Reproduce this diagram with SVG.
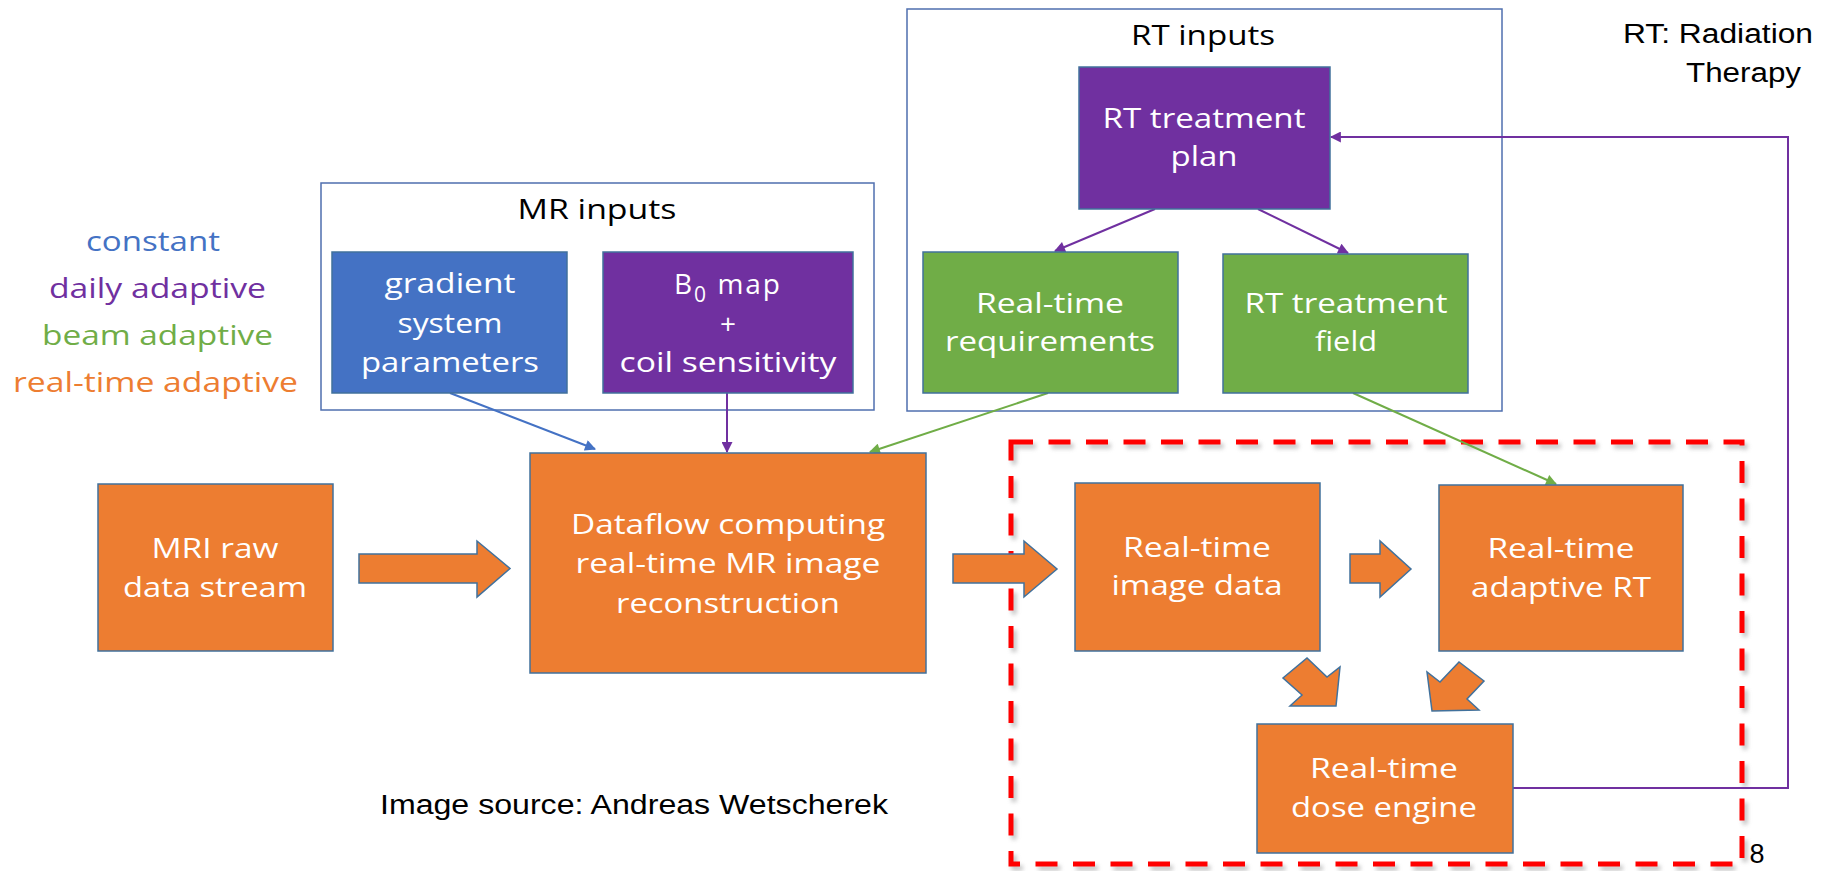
<svg xmlns="http://www.w3.org/2000/svg" width="1822" height="871" viewBox="0 0 1822 871">
<style>
.t{font-family:"Open Sans","Liberation Sans",sans-serif;font-size:28px;fill:#ffffff;text-anchor:middle}
.k{fill:#000000}
.a{font-family:"Liberation Sans",Arial,sans-serif;font-size:27px;fill:#000000}
.box{stroke:#41719C;stroke-width:1.5}
.or{fill:#ED7D31}
.bl{fill:#4472C4}
.pu{fill:#7030A0}
.gr{fill:#70AD47}
.cont{fill:none;stroke:#4F6FAF;stroke-width:1.5}
.ln{fill:none;stroke-width:2}
</style>
<defs>
<marker id="mb" viewBox="0 0 10 10" refX="9" refY="5" markerWidth="12" markerHeight="11" markerUnits="userSpaceOnUse" orient="auto"><path d="M0,0 L10,5 L0,10 z" fill="#4472C4"/></marker>
<marker id="mp" viewBox="0 0 10 10" refX="9" refY="5" markerWidth="12" markerHeight="11" markerUnits="userSpaceOnUse" orient="auto"><path d="M0,0 L10,5 L0,10 z" fill="#7030A0"/></marker>
<marker id="mg" viewBox="0 0 10 10" refX="9" refY="5" markerWidth="12" markerHeight="11" markerUnits="userSpaceOnUse" orient="auto"><path d="M0,0 L10,5 L0,10 z" fill="#70AD47"/></marker>
<filter id="sh" x="-5%" y="-5%" width="110%" height="110%"><feGaussianBlur stdDeviation="2"/></filter>
</defs>
<rect width="1822" height="871" fill="#ffffff"/>

<!-- legend -->
<g id="legend" font-family="Open Sans, Liberation Sans, sans-serif" font-size="28" text-anchor="middle">
<text x="153" y="251" fill="#4472C4" textLength="134" lengthAdjust="spacingAndGlyphs">constant</text>
<text x="157.5" y="298" fill="#7030A0" textLength="217" lengthAdjust="spacingAndGlyphs">daily adaptive</text>
<text x="157.5" y="345" fill="#70AD47" textLength="231" lengthAdjust="spacingAndGlyphs">beam adaptive</text>
<text x="155.5" y="392" fill="#ED7D31" textLength="285" lengthAdjust="spacingAndGlyphs">real-time adaptive</text>
</g>

<!-- containers -->
<g id="mr-inputs">
<rect class="cont" x="321" y="183" width="553" height="227"/>
<text class="t k" x="597" y="219" textLength="159" lengthAdjust="spacingAndGlyphs">MR inputs</text>
</g>
<g id="rt-inputs">
<rect class="cont" x="907" y="9" width="595" height="402"/>
<text class="t k" x="1203" y="45" textLength="144" lengthAdjust="spacingAndGlyphs">RT inputs</text>
</g>

<!-- red dashed region -->
<g id="realtime-region">
<rect x="1014" y="446" width="731" height="422" fill="none" stroke="#9a9a9a" stroke-width="5" stroke-dasharray="22 15.5" opacity="0.6" filter="url(#sh)"/>
<rect x="1011" y="442" width="731" height="422" fill="none" stroke="#FF0000" stroke-width="5" stroke-dasharray="22 15.5"/>
</g>

<!-- connectors -->
<g id="connectors">
<line class="ln" x1="450" y1="393" x2="595" y2="449" stroke="#4472C4" marker-end="url(#mb)"/>
<line class="ln" x1="727" y1="393" x2="727" y2="452" stroke="#7030A0" marker-end="url(#mp)"/>
<line class="ln" x1="1048" y1="393" x2="870" y2="452" stroke="#70AD47" marker-end="url(#mg)"/>
<line class="ln" x1="1155" y1="209" x2="1055" y2="251" stroke="#7030A0" marker-end="url(#mp)"/>
<line class="ln" x1="1258" y1="209" x2="1348" y2="253" stroke="#7030A0" marker-end="url(#mp)"/>
<line class="ln" x1="1353" y1="393" x2="1556" y2="484" stroke="#70AD47" marker-end="url(#mg)"/>
<polyline class="ln" points="1513,788 1788,788 1788,137 1331,137" stroke="#7030A0" stroke-width="2.5" marker-end="url(#mp)"/>
<!-- block arrows -->
<path class="box or" d="M359,554 L477,554 L477,541 L510,568.5 L477,597 L477,583 L359,583 Z"/>
<path class="box or" d="M953,554 L1024,554 L1024,541 L1057,569 L1024,597 L1024,583 L953,583 Z"/>
<path class="box or" d="M1350,554 L1380,554 L1380,541 L1411,569 L1380,597 L1380,583 L1350,583 Z"/>
<path class="box or" d="M1336,706 L1290,706 L1302,695 L1283,678 L1307,658 L1327,677 L1340,667 Z"/>
<path class="box or" d="M1432,711 L1427,672 L1440,682 L1459,662 L1484,681 L1467,699 L1479,710 Z"/>
</g>

<!-- nodes -->
<g id="gradient">
<rect class="box bl" x="332" y="252" width="235" height="141"/>
<text class="t" x="450" y="293" textLength="131" lengthAdjust="spacingAndGlyphs">gradient</text>
<text class="t" x="450" y="333" textLength="105" lengthAdjust="spacingAndGlyphs">system</text>
<text class="t" x="450" y="372" textLength="178" lengthAdjust="spacingAndGlyphs">parameters</text>
</g>
<g id="b0map">
<rect class="box pu" x="603" y="252" width="250" height="141"/>
<text class="t" x="728" y="294" letter-spacing="2">B<tspan font-size="21" dy="8">0</tspan><tspan dy="-8"> map</tspan></text>
<text class="t" x="728" y="334">+</text>
<text class="t" x="728" y="372" textLength="217" lengthAdjust="spacingAndGlyphs">coil sensitivity</text>
</g>
<g id="rt-plan">
<rect class="box pu" x="1079" y="67" width="251" height="142"/>
<text class="t" x="1204" y="128" textLength="203" lengthAdjust="spacingAndGlyphs">RT treatment</text>
<text class="t" x="1204" y="166" textLength="67" lengthAdjust="spacingAndGlyphs">plan</text>
</g>
<g id="rt-requirements">
<rect class="box gr" x="923" y="252" width="255" height="141"/>
<text class="t" x="1050" y="313" textLength="148" lengthAdjust="spacingAndGlyphs">Real-time</text>
<text class="t" x="1050" y="351" textLength="210" lengthAdjust="spacingAndGlyphs">requirements</text>
</g>
<g id="rt-field">
<rect class="box gr" x="1223" y="254" width="245" height="139"/>
<text class="t" x="1346" y="313" textLength="203" lengthAdjust="spacingAndGlyphs">RT treatment</text>
<text class="t" x="1346" y="351" textLength="62" lengthAdjust="spacingAndGlyphs">field</text>
</g>
<g id="mri-raw">
<rect class="box or" x="98" y="484" width="235" height="167"/>
<text class="t" x="215" y="558" textLength="127" lengthAdjust="spacingAndGlyphs">MRI raw</text>
<text class="t" x="215" y="597" textLength="184" lengthAdjust="spacingAndGlyphs">data stream</text>
</g>
<g id="dataflow">
<rect class="box or" x="530" y="453" width="396" height="220"/>
<text class="t" x="728" y="534" textLength="314" lengthAdjust="spacingAndGlyphs">Dataflow computing</text>
<text class="t" x="728" y="573" textLength="305" lengthAdjust="spacingAndGlyphs">real-time MR image</text>
<text class="t" x="728" y="613" textLength="224" lengthAdjust="spacingAndGlyphs">reconstruction</text>
</g>
<g id="image-data">
<rect class="box or" x="1075" y="483" width="245" height="168"/>
<text class="t" x="1197" y="557" textLength="148" lengthAdjust="spacingAndGlyphs">Real-time</text>
<text class="t" x="1197" y="595" textLength="171" lengthAdjust="spacingAndGlyphs">image data</text>
</g>
<g id="adaptive-rt">
<rect class="box or" x="1439" y="485" width="244" height="166"/>
<text class="t" x="1561" y="558" textLength="147" lengthAdjust="spacingAndGlyphs">Real-time</text>
<text class="t" x="1561" y="597" textLength="180" lengthAdjust="spacingAndGlyphs">adaptive RT</text>
</g>
<g id="dose-engine">
<rect class="box or" x="1257" y="724" width="256" height="129"/>
<text class="t" x="1384" y="778" textLength="148" lengthAdjust="spacingAndGlyphs">Real-time</text>
<text class="t" x="1384" y="817" textLength="186" lengthAdjust="spacingAndGlyphs">dose engine</text>
</g>

<!-- annotations -->
<g id="annotations">
<text class="a" x="1623" y="43" textLength="190" lengthAdjust="spacingAndGlyphs">RT: Radiation</text>
<text class="a" x="1686" y="82" textLength="115" lengthAdjust="spacingAndGlyphs">Therapy</text>
<text class="a" x="380" y="814" textLength="508" lengthAdjust="spacingAndGlyphs">Image source: Andreas Wetscherek</text>
<text class="a" x="1757" y="863" text-anchor="middle" font-size="22">8</text>
</g>
</svg>
